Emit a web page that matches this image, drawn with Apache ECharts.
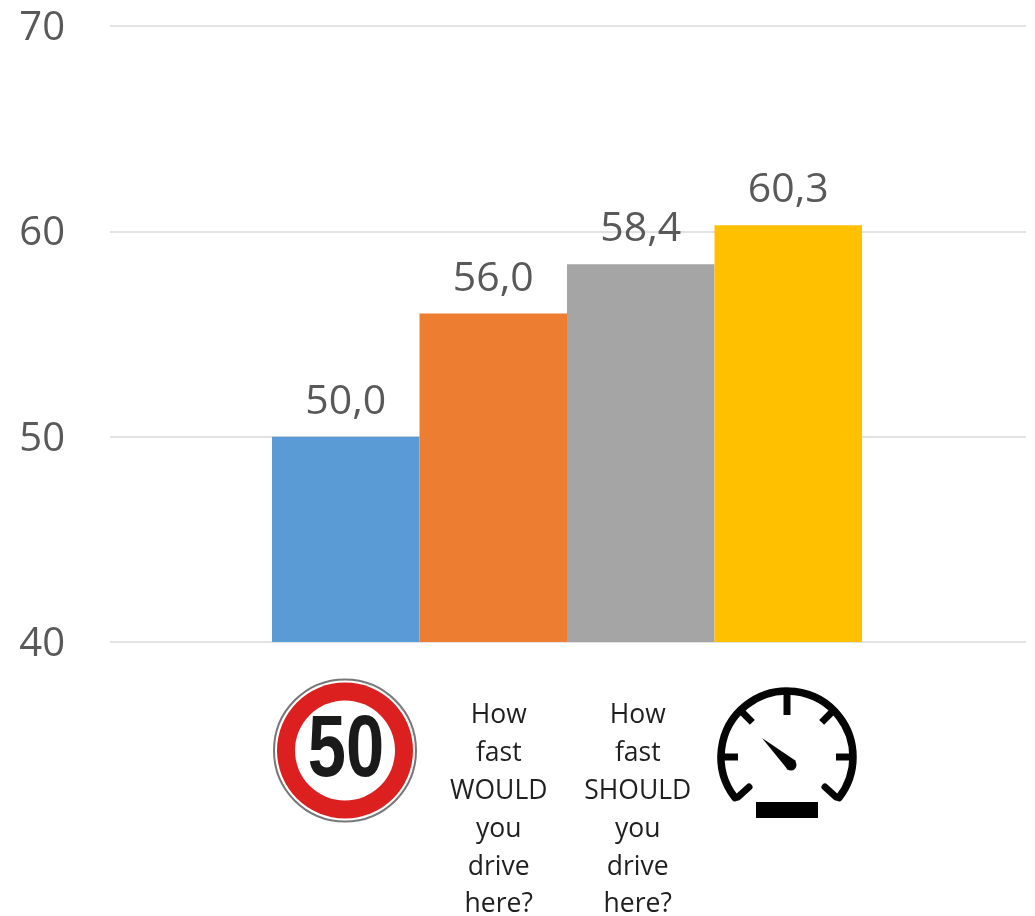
<!DOCTYPE html>
<html><head><meta charset="utf-8">
<style>html,body{margin:0;padding:0;background:#fff}#c{width:1035px;height:916px}</style>
<script src="https://cdn.jsdelivr.net/npm/echarts@6/dist/echarts.min.js"></script></head>
<body><div id="c"></div><script>
const categories = ["", "How\nfast\nWOULD\nyou\ndrive\nhere?", "How\nfast\nSHOULD\nyou\ndrive\nhere?", ""];
const values = [50.0, 56.0, 58.4, 60.3];
const barColors = ["#5B9BD5", "#ED7D31", "#A5A5A5", "#FFC000"];
const yMin = 40, yMax = 70, yStep = 10;
const font = "Open Sans";
const chart = echarts.init(document.getElementById('c'), null, {renderer:'canvas'});

const deg = d => d * Math.PI / 180;
const ink = '#050505';
const gx = 787, gy = 757, gr = 66;
function tick(angle, r0, r1){
  const a = deg(angle);
  return {type:'line', shape:{x1:gx+r0*Math.cos(a), y1:gy+r0*Math.sin(a), x2:gx+r1*Math.cos(a), y2:gy+r1*Math.sin(a)},
    style:{stroke:ink, lineWidth:7}};
}
const signs = [
  {type:'circle', shape:{cx:345, cy:750.5, r:71}, style:{fill:'#fff', stroke:'#777', lineWidth:2}},
  {type:'circle', shape:{cx:345, cy:750.5, r:68}, style:{fill:'#DC2020'}},
  {type:'circle', shape:{cx:345, cy:750.5, r:50}, style:{fill:'#fff'}},
  {type:'text', x:346, y:752, scaleX:0.78,
    style:{text:'50', x:0, y:0, align:'center', verticalAlign:'middle', fill:'#1a1a1a',
      fontFamily:'Liberation Sans', fontWeight:'bold', fontSize:88}},
  {type:'arc', shape:{cx:gx, cy:gy, r:gr, startAngle:deg(142), endAngle:deg(38), clockwise:true},
    style:{stroke:ink, fill:'none', lineWidth:7.5, lineCap:'round'}},
  tick(-90, gr, gr-24), tick(-135, gr, gr-17), tick(-45, gr, gr-17),
  tick(-180, gr, gr-17), tick(0, gr, gr-17),
  {type:'line', shape:{x1:738, y1:797, x2:749, y2:787}, style:{stroke:ink, lineWidth:7, lineCap:'round'}},
  {type:'line', shape:{x1:836, y1:797, x2:825, y2:787}, style:{stroke:ink, lineWidth:7, lineCap:'round'}},
  {type:'polygon', shape:{points:[[762,738],[796,761],[788,770]]}, style:{fill:ink}},
  {type:'circle', shape:{cx:791, cy:765, r:5.5}, style:{fill:ink}},
  {type:'rect', shape:{x:756, y:802, width:62, height:16}, style:{fill:'#000'}}
];

chart.setOption({
  animation:false,
  backgroundColor:'#fff',
  grid:[
    {left:110, right:9, top:26, bottom:274, outerBoundsMode:'none'},
    {left:272, width:590, top:26, bottom:274, outerBoundsMode:'none'}
  ],
  xAxis:[
    {type:'category', gridIndex:0, data:[''], show:false},
    {type:'category', gridIndex:1,
      data:categories.map((c,i)=>({value:c, textStyle: i===1 ? {padding:[0,0,0,11]} : i===2 ? {padding:[0,6,0,0]} : {}})),
      axisLine:{show:false}, axisTick:{show:false},
      axisLabel:{interval:0, margin:55, color:'#1f1f1f', fontFamily:font, fontSize:26.5, lineHeight:37.8, align:'center', verticalAlign:'top'}}
  ],
  yAxis:[
    {type:'value', gridIndex:0, min:yMin, max:yMax, interval:yStep,
      axisLine:{show:false}, axisTick:{show:false},
      axisLabel:{margin:45, formatter:'{n|{value}}',
        rich:{n:{color:'#595959', fontFamily:font, fontSize:40, padding:[5,0,0,0]}}},
      splitLine:{lineStyle:{color:'#D9D9D9', width:1.5}}},
    {type:'value', gridIndex:1, min:yMin, max:yMax, interval:yStep, show:false, splitLine:{show:false}}
  ],
  series:[{
    type:'bar', xAxisIndex:1, yAxisIndex:1, barWidth:'100%', z:3,
    data:values.map((v,i)=>({value:v, itemStyle:{color:barColors[i]}})),
    label:{show:true, position:'top', distance:14, color:'#595959', fontFamily:font, fontSize:41,
      formatter:p=>p.value.toFixed(1).replace('.',',')}
  }],
  graphic:signs
});
</script></body></html>
